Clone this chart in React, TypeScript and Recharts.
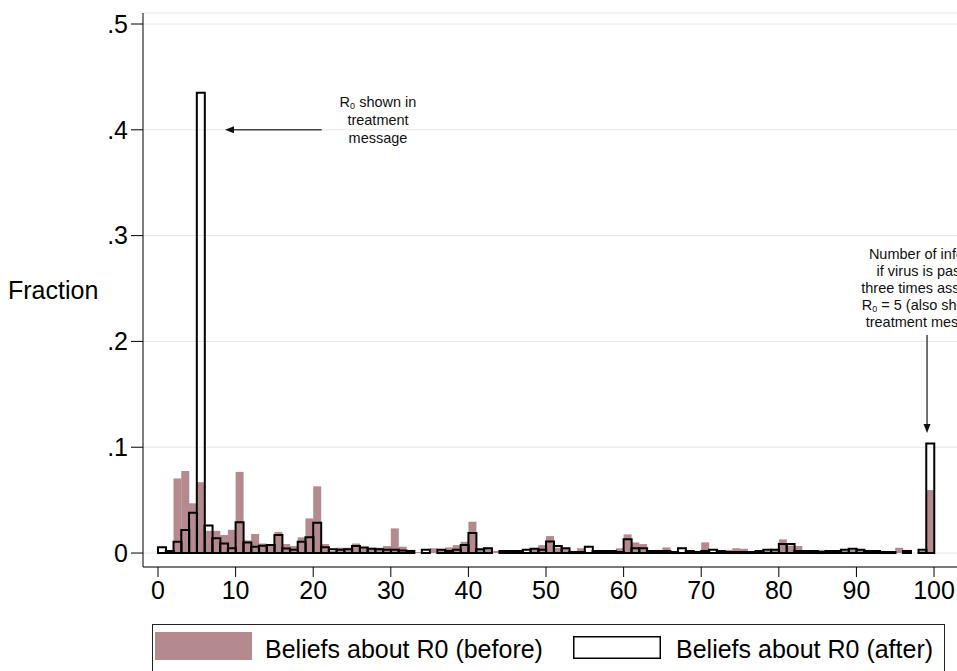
import React from "react";
import {
  Bar,
  BarChart,
  CartesianGrid,
  Legend,
  ReferenceDot,
  ReferenceLine,
  XAxis,
  YAxis,
} from "recharts";

/* fraction of answers per unit bin [k, k+1), k = 0..99 (100 falls in the last bin) */
const BEFORE = [
  0, 0.001, 0.0705, 0.0775, 0.047, 0.067, 0.021, 0.021, 0.017, 0.022,
  0.0767, 0.012, 0.018, 0.009, 0.008, 0.02, 0.0085, 0.0066, 0.0148, 0.0327,
  0.063, 0.0085, 0.002, 0.005, 0.005, 0.009, 0.005, 0.005, 0.005, 0.0066,
  0.0233, 0.006, 0.003, 0.001, 0, 0.0045, 0.003, 0.0053, 0.0075, 0.0106,
  0.0296, 0.003, 0.0053, 0.002, 0.001, 0.001, 0.002, 0.001, 0.004, 0.0075,
  0.016, 0.005, 0.005, 0.002, 0.0045, 0.001, 0.001, 0.001, 0.001, 0.0045,
  0.0176, 0.01, 0.0085, 0.002, 0.003, 0.0053, 0.001, 0.001, 0.001, 0.002,
  0.0101, 0.001, 0.002, 0.003, 0.0045, 0.004, 0.001, 0.001, 0.002, 0.003,
  0.0129, 0.007, 0.0066, 0.002, 0.002, 0.003, 0.001, 0.002, 0.002, 0.003,
  0.003, 0.002, 0.001, 0.002, 0.001, 0.005, 0.003, 0, 0.002, 0.0595,
];

const AFTER = [
  0.0054, 0.002, 0.0107, 0.0217, 0.038, 0.435, 0.026, 0.014, 0.009, 0.0045,
  0.029, 0.01, 0.006, 0.007, 0.0075, 0.017, 0.0044, 0.003, 0.0107, 0.0148,
  0.0286, 0.0054, 0.0035, 0.003, 0.0035, 0.0066, 0.0053, 0.004, 0.0035, 0.003,
  0.003, 0.0025, 0.002, 0, 0.003, 0, 0.003, 0.002, 0.003, 0.0075,
  0.019, 0.0035, 0.0045, 0, 0.002, 0.002, 0.002, 0.003, 0.004, 0.003,
  0.011, 0.0066, 0.0045, 0.001, 0.001, 0.006, 0.002, 0.002, 0.002, 0.001,
  0.013, 0.0045, 0.0045, 0.002, 0.002, 0.002, 0.001, 0.0045, 0.002, 0.001,
  0.002, 0.003, 0.002, 0.001, 0.001, 0.001, 0.001, 0.002, 0.003, 0.003,
  0.0085, 0.0085, 0.002, 0.002, 0.002, 0.001, 0.002, 0.002, 0.003, 0.004,
  0.003, 0.002, 0.002, 0.001, 0.001, 0, 0.002, 0, 0.003, 0.1036,
];

const X_TICKS = [0, 10, 20, 30, 40, 50, 60, 70, 80, 90, 100];
const Y_TICKS = [0, 0.1, 0.2, 0.3, 0.4, 0.5];

const NOTE_LEFT = ["shown in", "treatment", "message"];
const NOTE_RIGHT = [
  "Number of infected",
  "if virus is passed",
  "three times assuming",
  "= 5 (also shown in",
  "treatment message)",
];

const PINK = "#b48a8f";
const GRID = "#e6e6e6";
const FONT = '"Liberation Sans", Arial, Helvetica, sans-serif';

const data = BEFORE.map((b, i) => ({ bin: i + 0.5, before: b, after: AFTER[i] }));

function Arrow(props: any) {
  const { x1, y1, x2, y2 } = props;
  const a = Math.atan2(y2 - y1, x2 - x1);
  const len = 9;
  const half = 3.5;
  const bx = x2 - len * Math.cos(a);
  const by = y2 - len * Math.sin(a);
  const px = -Math.sin(a) * half;
  const py = Math.cos(a) * half;
  return (
    <g>
      <line x1={x1} y1={y1} x2={bx} y2={by} stroke="#444" strokeWidth={1.5} />
      <polygon
        points={`${x2},${y2} ${bx + px},${by + py} ${bx - px},${by - py}`}
        fill="#111"
      />
    </g>
  );
}

function R0(first: string) {
  return [
    <tspan key="r">R</tspan>,
    <tspan key="s" fontSize={9} dy={2}>0</tspan>,
    <tspan key="t" dy={-2}>{" " + first}</tspan>,
  ];
}

function NoteLeft(props: any) {
  const { cx, cy } = props;
  return (
    <text x={cx} y={cy} textAnchor="middle" fontSize={14.5} fill="#111">
      {NOTE_LEFT.map((line, i) =>
        i === 0 ? (
          <tspan key={i} x={cx} y={cy}>{R0(line)}</tspan>
        ) : (
          <tspan key={i} x={cx} y={cy + i * 18}>{line}</tspan>
        )
      )}
    </text>
  );
}

function NoteRight(props: any) {
  const { cx, cy } = props;
  return (
    <text x={cx} y={cy} textAnchor="middle" fontSize={14.5} fill="#111">
      {NOTE_RIGHT.map((line, i) =>
        i === 3 ? (
          <tspan key={i} x={cx} y={cy + i * 17}>{R0(line)}</tspan>
        ) : (
          <tspan key={i} x={cx} y={cy + i * 17}>{line}</tspan>
        )
      )}
    </text>
  );
}

function LegendBox() {
  return (
    <svg width={793} height={47} style={{ display: "block", fontFamily: FONT }}>
      <rect x={0.5} y={0.5} width={792} height={60} fill="#fff" stroke="#222" />
      <rect x={3} y={8} width={97} height={28} fill={PINK} />
      <text x={113} y={34} fontSize={25} fill="#000">
        Beliefs about R0 (before)
      </text>
      <rect x={421.75} y={12.75} width={86.5} height={21.5} fill="#fff" stroke="#000" strokeWidth={1.5} />
      <text x={524} y={34} fontSize={25} fill="#000">
        Beliefs about R0 (after)
      </text>
    </svg>
  );
}

export default function App() {
  return (
    <div
      style={{
        position: "absolute",
        left: 0,
        top: 0,
        width: 957,
        height: 671,
        overflow: "hidden",
        background: "#fff",
        fontFamily: FONT,
      }}
    >
      <BarChart
        width={957}
        height={671}
        data={data}
        margin={{ top: 13, right: 0, left: 0, bottom: 13 }}
        barCategoryGap={0}
        barGap={0}
      >
        <CartesianGrid xAxisId="a" vertical={false} stroke={GRID} />
        <XAxis
          xAxisId="a"
          type="number"
          dataKey="bin"
          domain={[-1.933, 102.96]}
          allowDataOverflow
          ticks={X_TICKS}
          interval={0}
          height={44}
          tickSize={10}
          tickMargin={4}
          stroke="#000"
          tick={{ fill: "#000", fontSize: 25 }}
        />
        <XAxis
          xAxisId="b"
          type="number"
          dataKey="bin"
          domain={[-1.933, 102.96]}
          allowDataOverflow
          hide
        />
        <YAxis
          type="number"
          domain={[-0.0132, 0.5104]}
          allowDataOverflow
          ticks={Y_TICKS}
          interval={0}
          width={143}
          tickSize={12}
          tickMargin={3}
          stroke="#000"
          tick={{ fill: "#000", fontSize: 25 }}
          tickFormatter={(v: number) => (v === 0 ? "0" : String(v).replace(/^0/, ""))}
          label={{ value: "Fraction", position: "insideLeft", offset: 8, fontSize: 25, fill: "#000" }}
        />
        <Legend
          verticalAlign="bottom"
          content={() => <LegendBox />}
          wrapperStyle={{ left: 152, top: 624, bottom: "auto", width: 793, height: 47 }}
        />
        <Bar
          xAxisId="a"
          dataKey="before"
          name="Beliefs about R0 (before)"
          fill={PINK}
          isAnimationActive={false}
        />
        <Bar
          xAxisId="b"
          dataKey="after"
          name="Beliefs about R0 (after)"
          fill="none"
          stroke="#000"
          strokeWidth={2}
          isAnimationActive={false}
        />
        <ReferenceLine
          xAxisId="a"
          segment={[
            { x: 21.1, y: 0.4 },
            { x: 8.63, y: 0.4 },
          ]}
          shape={Arrow}
        />
        <ReferenceLine
          xAxisId="a"
          segment={[
            { x: 99.1, y: 0.206 },
            { x: 99.1, y: 0.1134 },
          ]}
          shape={Arrow}
        />
        <ReferenceDot xAxisId="a" x={28.35} y={0.4216} r={0} shape={NoteLeft} />
        <ReferenceDot xAxisId="a" x={99.5} y={0.2779} r={0} shape={NoteRight} />
      </BarChart>
    </div>
  );
}
